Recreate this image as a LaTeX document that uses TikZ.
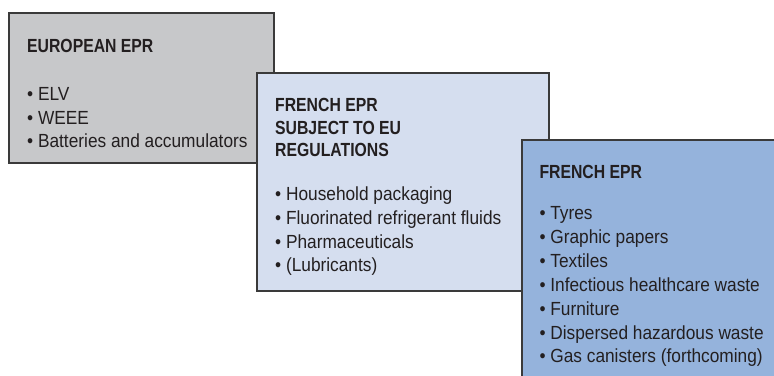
\documentclass[tikz,border=0pt]{standalone}
\usepackage{fontspec}
\setmainfont[FakeStretch=0.91,BoldFeatures={FakeStretch=0.83}]{Liberation Sans}
\definecolor{boxgray}{HTML}{C7C8CA}
\definecolor{boxlight}{HTML}{D5DEEF}
\definecolor{boxblue}{HTML}{95B3DC}
\definecolor{edge}{HTML}{3A3A3A}
\definecolor{ink}{HTML}{231F20}
\begin{document}
\begin{tikzpicture}[x=1pt,y=1pt,
  panel/.style={draw=edge,line width=1.2pt},
  ttl/.style={anchor=base west,inner sep=0pt,text=ink,font=\fontsize{19}{22}\selectfont\bfseries},
  itm/.style={anchor=base west,inner sep=0pt,text=ink,font=\fontsize{19}{22}\selectfont}]
\clip (0,0) rectangle (774,-375);
% box 1
\draw[panel,fill=boxgray] (9,-13) rectangle (274,-163);
\node[ttl] (t1) at (27,-52) {EUROPEAN EPR};
\node[itm] (a1) at (27,-100.7) {• ELV};
\node[itm] (a2) at (27,-124) {• WEEE};
\node[itm] (a3) at (27,-147.7) {• Batteries and accumulators};
% box 2
\draw[panel,fill=boxlight] (257,-73) rectangle (549,-291);
\node[ttl] (t2a) at (275,-111.7) {FRENCH EPR};
\node[ttl] (t2b) at (275,-134) {SUBJECT TO EU};
\node[ttl] (t2c) at (275,-156.7) {REGULATIONS};
\node[itm] (b1) at (275,-200) {• Household packaging};
\node[itm] (b2) at (275,-224) {• Fluorinated refrigerant fluids};
\node[itm] (b3) at (275,-248) {• Pharmaceuticals};
\node[itm] (b4) at (275,-271) {• (Lubricants)};
% box 3
\draw[panel,fill=boxblue] (522,-140) rectangle (780,-380);
\node[ttl] (t3) at (539.3,-178) {FRENCH EPR};
\node[itm] (c1) at (539.3,-219) {• Tyres};
\node[itm] (c2) at (539.3,-243) {• Graphic papers};
\node[itm] (c3) at (539.3,-267) {• Textiles};
\node[itm] (c4) at (539.3,-291) {• Infectious healthcare waste};
\node[itm] (c5) at (539.3,-315) {• Furniture};
\node[itm] (c6) at (539.3,-339) {• Dispersed hazardous waste};
\node[itm] (c7) at (539.3,-362) {• Gas canisters (forthcoming)};
\end{tikzpicture}
\end{document}
